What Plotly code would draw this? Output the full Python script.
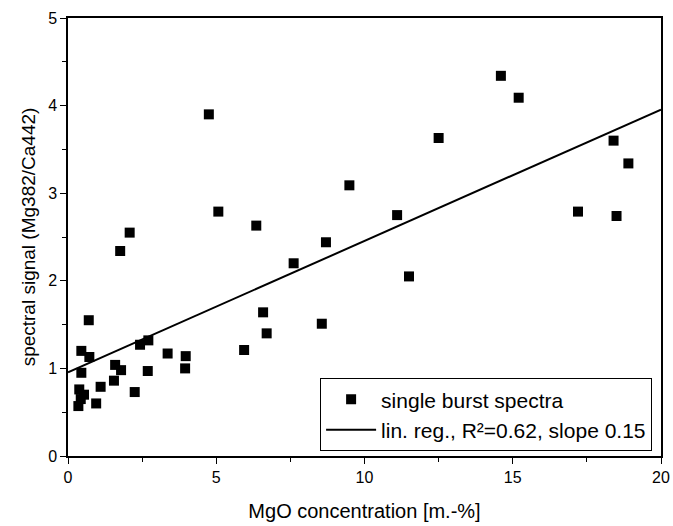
import plotly.graph_objects as go

mgo = [0.35, 0.38, 0.43, 0.54, 0.45, 0.45, 0.72, 0.70, 0.95, 1.10, 1.55, 1.59, 1.79,
       1.76, 2.08, 2.25, 2.43, 2.71, 2.69, 3.36, 3.95, 3.97, 4.75, 5.07, 5.94, 6.35,
       6.58, 6.70, 7.61, 8.56, 8.70, 9.49, 11.1, 11.5, 12.5, 14.6, 15.2, 17.2, 18.4,
       18.5, 18.9]
signal = [0.57, 0.76, 0.65, 0.70, 0.95, 1.20, 1.13, 1.55, 0.60, 0.79, 0.86, 1.04, 0.98,
          2.34, 2.55, 0.73, 1.27, 1.32, 0.97, 1.17, 1.00, 1.14, 3.90, 2.79, 1.21, 2.63,
          1.64, 1.40, 2.20, 1.51, 2.44, 3.09, 2.75, 2.05, 3.63, 4.34, 4.09, 2.79, 3.60,
          2.74, 3.34]

fit_x = [0, 20]
intercept = 0.955
slope = 0.15
fit_y = [intercept + slope * v for v in fit_x]

fig = go.Figure()
fig.add_trace(go.Scatter(x=mgo, y=signal, mode="markers", name="single burst spectra",
                         marker=dict(symbol="square", size=10, color="black")))
fig.add_trace(go.Scatter(x=fit_x, y=fit_y, mode="lines",
                         name="lin. reg., R²=0.62, slope 0.15",
                         line=dict(color="black", width=2)))

axis_common = dict(showline=True, linecolor="black", linewidth=1.5, mirror=True,
                   ticks="outside", ticklen=6, tickwidth=1.2, tickcolor="black",
                   showgrid=False, zeroline=False, automargin=False,
                   tickfont=dict(size=16, color="black"),
                   minor=dict(ticks="outside", ticklen=4, tickwidth=1, tickcolor="black"))

fig.update_xaxes(range=[0, 20], dtick=5, title=dict(text="MgO concentration [m.-%]",
                 font=dict(size=20, color="black"), standoff=19),
                 **axis_common)
fig.update_xaxes(minor=dict(dtick=2.5))
fig.update_yaxes(range=[0, 5], dtick=1, title=dict(text="spectral signal (Mg382/Ca442)",
                 font=dict(size=19, color="black"), standoff=7),
                 **axis_common)
fig.update_yaxes(minor=dict(dtick=0.5))

fig.update_layout(
    width=673, height=526,
    margin=dict(l=68, r=12, t=18, b=70),
    paper_bgcolor="white", plot_bgcolor="white",
    font=dict(family="Liberation Sans, Arial, sans-serif", color="black"),
    showlegend=True,
    legend=dict(x=0.985, y=0.011, xanchor="right", yanchor="bottom",
                bordercolor="black", borderwidth=1, bgcolor="white",
                itemwidth=50,
                font=dict(size=21, color="black"), tracegroupgap=0),
)

fig.write_html("out.html")
